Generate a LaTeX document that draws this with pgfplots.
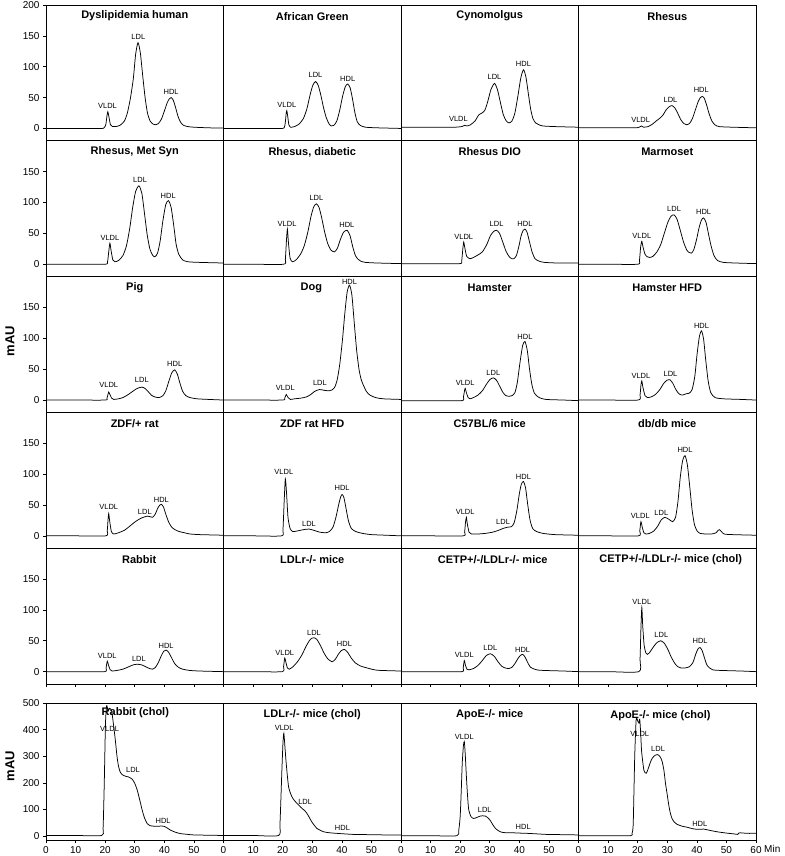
\documentclass[border=0pt]{standalone}
\usepackage{fontspec}
\setmainfont{Liberation Sans}
\usepackage{pgfplots}
\pgfplotsset{compat=1.18}
\tikzset{
  lab/.style={font=\fontsize{7.5}{9}\selectfont, inner sep=0pt},
  ttl/.style={font=\fontsize{11}{13}\selectfont\bfseries, inner sep=0pt},
}
\pgfplotsset{
  panel/.style={
    scale only axis, width=177.5pt, height=135.8pt,
    xmin=0, xmax=60, ymin=-20, ymax=200,
    anchor=north west,
    xtick=\empty, ytick=\empty,
    axis line style={line width=0.7pt},
    tick align=outside, xtick pos=bottom, ytick pos=left,
    major tick length=3pt,
    tick style={line width=0.6pt, black},
    ticklabel style={font=\fontsize{10}{12}\selectfont},
    /pgf/number format/assume math mode=true,
  },
  lcol/.style={ytick={0,50,100,150}},
  r5/.style={xtick={0,10,...,60}, xticklabels={,,,,,,,}},
  r6/.style={ymin=-15, ymax=500, height=137pt, xtick={0,10,...,50}},
  trace/.style={black, line width=0.75pt, mark=none, smooth, tension=0.4},
}
\begin{document}
\begin{tikzpicture}
\path[use as bounding box] (0,0) rectangle (784pt,856pt);
\node[rotate=90, font=\fontsize{13}{15}\selectfont\bfseries] at (10pt,515pt) {mAU};
\node[rotate=90, font=\fontsize{13}{15}\selectfont\bfseries] at (10pt,90pt) {mAU};

% ---------------- Row 1 ----------------
\begin{axis}[panel, at={(46pt,851pt)}, ytick={0,50,100,150,200}]
\addplot[trace] coordinates {(0,0)(10,0)(18,0)(19.5,0.5)(20.2,6)(20.6,20)(20.9,27)(21.3,18)(21.8,6)(22.5,3)(23.5,3)(25,5)(26.5,12)(27.5,25)(28.5,48)(29.5,80)(30.3,120)(31.1,139)(31.9,122)(32.7,85)(33.5,50)(34.3,25)(35.2,12)(36.2,7)(37,6)(38,8)(39,15)(40,28)(41,42)(41.7,48)(42.3,50)(43,46)(43.8,34)(44.6,20)(45.5,10)(46.5,5)(48,3)(50,2)(55,1)(60,0.5)};
\node[ttl] at (axis cs:30,182) {Dyslipidemia human};
\node[lab] at (axis cs:20.8,36) {VLDL};
\node[lab] at (axis cs:31.2,148) {LDL};
\node[lab] at (axis cs:42.3,59) {HDL};
\end{axis}
\begin{axis}[panel, at={(223.5pt,851pt)}]
\addplot[trace] coordinates {(0,0)(10,0)(19,0)(20.5,1)(20.9,10)(21.2,25)(21.4,29)(21.7,20)(22.1,6)(22.7,2)(24,3)(25.5,7)(27,16)(28.2,32)(29.3,55)(30.2,70)(31.1,76)(32,70)(32.9,54)(33.8,34)(34.7,18)(35.6,8)(36.4,4)(37.3,5)(38.3,12)(39.3,30)(40.3,53)(41.2,68)(42,72)(42.8,66)(43.6,48)(44.4,26)(45.2,11)(46.2,5)(48,2)(52,1)(60,0)};
\node[ttl] at (axis cs:30,182) {African Green};
\node[lab] at (axis cs:21.4,38) {VLDL};
\node[lab] at (axis cs:31.1,86) {LDL};
\node[lab] at (axis cs:42,80) {HDL};
\end{axis}
\begin{axis}[panel, at={(401pt,851pt)}]
\addplot[trace] coordinates {(0,2)(10,2)(18,2)(20.5,3)(21.5,5)(22.3,4)(23.5,6)(25,12)(26.3,22)(27.4,25)(28.4,30)(29.4,45)(30.4,63)(31.6,73)(32.6,63)(33.6,42)(34.6,22)(35.6,12)(36.5,9)(37.5,12)(38.5,25)(39.5,52)(40.5,82)(41.4,95)(42.2,84)(43,58)(43.8,32)(44.6,16)(45.5,9)(46.6,6)(48,4)(52,3)(60,2)};
\node[ttl] at (axis cs:30,182) {Cynomolgus};
\node[lab] at (axis cs:19.4,16) {VLDL};
\node[lab] at (axis cs:31.6,84) {LDL};
\node[lab] at (axis cs:41.4,104) {HDL};
\end{axis}
\begin{axis}[panel, at={(578.5pt,851pt)}]
\addplot[trace] coordinates {(0,1)(10,1)(19,1)(20.5,2)(21.3,4)(22,2)(23.5,3)(25,7)(26.5,13)(27.6,17)(28.6,22)(29.6,30)(30.6,35)(31.6,37)(32.6,33)(33.6,24)(34.6,14)(35.6,8)(36.5,6)(37.5,8)(38.5,16)(39.5,30)(40.5,44)(41.2,50)(41.8,52)(42.5,49)(43.3,38)(44.2,23)(45.1,12)(46.1,6)(47.5,3)(52,2)(60,1)};
\node[ttl] at (axis cs:30,182) {Rhesus};
\node[lab] at (axis cs:21,14) {VLDL};
\node[lab] at (axis cs:31.1,47) {LDL};
\node[lab] at (axis cs:41.5,63) {HDL};
\end{axis}

% ---------------- Row 2 ----------------
\begin{axis}[panel, lcol, at={(46pt,715.2pt)}]
\addplot[trace] coordinates {(0,0)(10,0)(20,0)(20.8,4)(21.2,20)(21.6,34)(22,22)(22.6,7)(23.3,4)(24.5,6)(26,14)(27.2,30)(28.3,58)(29.3,92)(30.3,118)(31.4,127)(32.4,115)(33.3,82)(34.2,48)(35.1,25)(36,15)(36.8,12)(37.7,18)(38.6,38)(39.5,70)(40.5,97)(41.4,103)(42.3,92)(43.2,62)(44,32)(44.9,16)(46.2,7)(48,4)(52,3)(60,2)};
\node[ttl] at (axis cs:30,182) {Rhesus, Met Syn};
\node[lab] at (axis cs:21.6,43) {VLDL};
\node[lab] at (axis cs:31.8,137) {LDL};
\node[lab] at (axis cs:41.3,111) {HDL};
\end{axis}
\begin{axis}[panel, at={(223.5pt,715.2pt)}]
\addplot[trace] coordinates {(0,0)(10,0)(20.3,0)(20.9,8)(21.3,40)(21.6,57)(21.95,35)(22.5,10)(23.3,4)(24.5,7)(26,16)(27.3,30)(28.5,52)(29.6,78)(30.5,93)(31.4,98)(32.3,92)(33.2,75)(34.2,52)(35.2,34)(36.3,23)(37.5,20)(38.5,26)(39.5,40)(40.6,52)(41.8,55)(42.8,46)(43.7,28)(44.6,14)(45.5,8)(46.4,5)(48,3)(52,2)(60,1)};
\node[ttl] at (axis cs:30,182) {Rhesus, diabetic};
\node[lab] at (axis cs:21.5,66) {VLDL};
\node[lab] at (axis cs:31.4,107) {LDL};
\node[lab] at (axis cs:41.7,63) {HDL};
\end{axis}
\begin{axis}[panel, at={(401pt,715.2pt)}]
\addplot[trace] coordinates {(0,1)(10,1)(19.8,1)(20.5,5)(20.9,25)(21.2,36)(21.6,26)(22.2,13)(23.3,9)(24.5,11)(26,15)(27.5,20)(29,32)(30.2,46)(31.3,53)(32.3,55)(33.3,50)(34.4,36)(35.5,21)(36.6,12)(37.5,9)(38.2,9)(39,14)(39.8,28)(40.6,46)(41.3,55)(41.9,57)(42.6,52)(43.4,37)(44.3,20)(45.3,9)(46.7,5)(48.5,3)(53,2)(60,2)};
\node[ttl] at (axis cs:30,182) {Rhesus DIO};
\node[lab] at (axis cs:21.2,45) {VLDL};
\node[lab] at (axis cs:32.3,65) {LDL};
\node[lab] at (axis cs:41.9,65) {HDL};
\end{axis}
\begin{axis}[panel, at={(578.5pt,715.2pt)}]
\addplot[trace] coordinates {(0,0)(10,0)(20,0)(20.6,6)(21,28)(21.4,37)(21.8,28)(22.5,16)(23.3,12)(24.1,11)(25.2,13)(26.5,20)(27.8,32)(29,50)(30.2,68)(31.3,78)(32.3,80)(33.3,73)(34.4,55)(35.5,36)(36.6,23)(37.4,19)(38.2,18)(39,24)(39.9,40)(40.8,60)(41.6,72)(42.3,75)(43.1,68)(43.9,50)(44.8,30)(45.8,14)(47,6)(49,3)(53,2)(60,1)};
\node[ttl] at (axis cs:30,182) {Marmoset};
\node[lab] at (axis cs:21.4,46) {VLDL};
\node[lab] at (axis cs:32.3,90) {LDL};
\node[lab] at (axis cs:42.3,85) {HDL};
\end{axis}

% ---------------- Row 3 ----------------
\begin{axis}[panel, lcol, at={(46pt,579.4pt)}]
\addplot[trace] coordinates {(0,0)(10,0)(20,0)(20.6,3)(21,10)(21.2,13)(21.6,9)(22.2,3)(22.9,1)(24.5,2)(26,4)(27.5,8)(29,13)(30.5,18)(31.5,20)(32.4,21)(33.4,19)(34.5,14)(35.6,8)(36.8,5)(38.2,4)(39.5,7)(40.5,15)(41.5,30)(42.5,44)(43.5,49)(44.4,42)(45.3,27)(46.2,14)(47.3,7)(48.7,4)(51,2)(55,1)(60,0)};
\node[ttl] at (axis cs:30,182) {Pig};
\node[lab] at (axis cs:21.2,24) {VLDL};
\node[lab] at (axis cs:32.4,32) {LDL};
\node[lab] at (axis cs:43.5,58) {HDL};
\end{axis}
\begin{axis}[panel, at={(223.5pt,579.4pt)}]
\addplot[trace] coordinates {(0,0)(10,0)(20,0)(20.7,3)(21.2,9)(21.7,5)(22.6,1)(24,2)(26,3)(28,5)(29.5,9)(30.8,14)(32.4,17)(33.8,16)(35.3,15)(36.5,16)(37.5,20)(38.4,32)(39.3,58)(40.2,97)(41,140)(41.8,175)(42.6,186)(43.4,170)(44.2,125)(45,81)(45.8,50)(46.5,34)(47.2,25)(48.3,14)(49.5,8)(51.4,4)(54,2)(60,1)};
\node[ttl] at (axis cs:29.7,182) {Dog};
\node[lab] at (axis cs:20.9,19) {VLDL};
\node[lab] at (axis cs:32.6,27) {LDL};
\node[lab] at (axis cs:42.6,192) {HDL};
\end{axis}
\begin{axis}[panel, at={(401pt,579.4pt)}]
\addplot[trace] coordinates {(0,-1)(10,-1)(20.5,-1)(21.1,5)(21.5,16)(21.7,19)(22.1,12)(22.7,4)(23.3,2)(24.5,4)(26,8)(27.5,15)(28.8,25)(30,33)(31.2,36)(32.3,32)(33.4,22)(34.5,12)(35.5,7)(36.5,6)(37.5,7)(38.5,12)(39.3,28)(40.2,60)(41.1,88)(41.9,95)(42.7,80)(43.4,52)(44.2,26)(45.1,11)(46.7,4)(49,1)(55,0)(60,-1)};
\node[ttl] at (axis cs:30,182) {Hamster};
\node[lab] at (axis cs:21.7,28) {VLDL};
\node[lab] at (axis cs:31.2,44) {LDL};
\node[lab] at (axis cs:41.9,103) {HDL};
\end{axis}
\begin{axis}[panel, at={(578.5pt,579.4pt)}]
\addplot[trace] coordinates {(0,0)(10,0)(20.2,0)(20.8,8)(21.1,24)(21.4,31)(21.8,20)(22.5,7)(23.3,4)(24.5,5)(26,9)(27.5,17)(28.8,27)(29.9,32)(30.9,33)(31.9,27)(32.9,17)(34,10)(35.1,8)(36.3,10)(37.4,11)(38.4,17)(39.3,38)(40.1,75)(40.9,104)(41.6,112)(42.3,98)(43,65)(43.8,32)(44.7,12)(46.2,4)(49,2)(55,1)(60,0)};
\node[ttl] at (axis cs:30,182) {Hamster HFD};
\node[lab] at (axis cs:21.1,39) {VLDL};
\node[lab] at (axis cs:31.1,42) {LDL};
\node[lab] at (axis cs:41.6,120) {HDL};
\end{axis}

% ---------------- Row 4 ----------------
\begin{axis}[panel, lcol, at={(46pt,443.6pt)}]
\addplot[trace] coordinates {(0,0)(10,0)(20.2,0)(20.7,8)(21,28)(21.2,36)(21.5,25)(22.1,7)(22.9,3)(24.5,5)(26.5,9)(28.4,16)(30.2,23)(32.3,29)(34.3,32)(35.2,31)(36,30)(36.9,35)(37.8,45)(38.5,50)(39,51)(39.7,47)(40.5,35)(41.5,22)(42.5,14)(43.6,10)(45,7)(46.8,5)(48.7,3)(52,2)(60,1)};
\node[ttl] at (axis cs:30,182) {ZDF/+ rat};
\node[lab] at (axis cs:21.2,47) {VLDL};
\node[lab] at (axis cs:33.4,38) {LDL};
\node[lab] at (axis cs:39,59) {HDL};
\end{axis}
\begin{axis}[panel, at={(223.5pt,443.6pt)}]
\addplot[trace] coordinates {(0,0)(10,0)(19.6,0)(20.1,10)(20.5,55)(20.9,92)(21.3,70)(21.8,30)(22.5,12)(23.4,7)(25,8)(27,10)(28.9,11)(30.5,9)(32.5,6)(34.5,5)(35.8,7)(37,14)(38,30)(39,52)(39.6,63)(40.1,67)(40.7,62)(41.4,45)(42.2,25)(43.2,12)(44.7,7)(47,4)(50,2)(55,1)(60,0)};
\node[ttl] at (axis cs:30,182) {ZDF rat HFD};
\node[lab] at (axis cs:20.4,104) {VLDL};
\node[lab] at (axis cs:28.9,19) {LDL};
\node[lab] at (axis cs:40.1,77) {HDL};
\end{axis}
\begin{axis}[panel, at={(401pt,443.6pt)}]
\addplot[trace] coordinates {(0,0)(10,0)(21,0)(21.5,6)(21.8,22)(22.1,30)(22.4,20)(23,6)(23.8,3)(26,3)(28.5,4)(31,6)(33,9)(34.5,12)(36,14)(37.4,15)(38.3,22)(39.2,42)(40,68)(40.7,84)(41.4,88)(42.1,78)(42.8,52)(43.6,26)(44.5,12)(45.8,7)(48,4)(52,2)(60,1)};
\node[ttl] at (axis cs:30,182) {C57BL/6 mice};
\node[lab] at (axis cs:21.7,38) {VLDL};
\node[lab] at (axis cs:34.5,22) {LDL};
\node[lab] at (axis cs:41.4,96) {HDL};
\end{axis}
\begin{axis}[panel, at={(578.5pt,443.6pt)}]
\addplot[trace] coordinates {(0,0)(10,0)(20.3,0)(20.7,8)(21.1,23)(21.5,15)(22.1,5)(22.8,3)(24,4)(25.5,8)(26.8,16)(28,26)(29.2,30)(30.5,27)(31.8,23)(32.8,30)(33.6,55)(34.4,95)(35.2,122)(36,130)(36.8,115)(37.6,80)(38.4,42)(39.2,18)(40.1,8)(41.1,4)(43,3)(45,3)(46.5,5)(47.2,9)(47.7,10)(48.3,7)(49.2,3)(52,2)(60,1)};
\node[ttl] at (axis cs:30,182) {db/db mice};
\node[lab] at (axis cs:20.9,32) {VLDL};
\node[lab] at (axis cs:28,37) {LDL};
\node[lab] at (axis cs:36,139) {HDL};
\end{axis}

% ---------------- Row 5 ----------------
\begin{axis}[panel, lcol, r5, at={(46pt,307.8pt)}]
\addplot[trace] coordinates {(0,0)(10,0)(19.8,0)(20.3,6)(20.7,17)(21.1,11)(21.7,3)(22.4,1)(24,2)(26,4)(28,8)(29.5,11)(30.9,12)(32.3,11)(33.7,8)(35,5)(36,4)(37,7)(38,15)(39,26)(39.8,33)(40.6,35)(41.5,31)(42.5,22)(43.5,13)(44.8,7)(46.2,4)(48.5,2)(52,1)(60,0)};
\node[ttl] at (axis cs:31.5,182) {Rabbit};
\node[lab] at (axis cs:20.7,25) {VLDL};
\node[lab] at (axis cs:31.4,20) {LDL};
\node[lab] at (axis cs:40.6,41) {HDL};
\end{axis}
\begin{axis}[panel, r5, at={(223.5pt,307.8pt)}]
\addplot[trace] coordinates {(0,0)(10,0)(19.8,0)(20.3,8)(20.7,22)(21.1,15)(21.6,6)(22.2,4)(23.5,8)(25,16)(26.5,27)(27.8,40)(29,50)(29.8,54)(30.6,55)(31.6,52)(32.8,42)(34,30)(35.2,21)(36.7,16)(37.8,20)(38.8,28)(39.8,34)(40.9,36)(42,31)(43.2,22)(44.6,14)(46.4,9)(48.5,6)(51,3)(53,2)(60,1)};
\node[ttl] at (axis cs:30,182) {LDLr-/- mice};
\node[lab] at (axis cs:20.7,31) {VLDL};
\node[lab] at (axis cs:30.6,63) {LDL};
\node[lab] at (axis cs:40.9,45) {HDL};
\end{axis}
\begin{axis}[panel, r5, at={(401pt,307.8pt)}]
\addplot[trace] coordinates {(0,0)(10,0)(20.5,0)(21,6)(21.4,18)(21.8,10)(22.3,4)(22.9,3)(24.5,5)(26,10)(27.5,18)(28.8,26)(30.2,29)(31.5,25)(32.8,16)(34,9)(35.2,6)(36.5,5)(37.5,7)(38.5,13)(39.5,21)(40.3,26)(41.1,28)(41.9,24)(42.8,15)(43.8,7)(45.8,3)(48,2)(55,1)(60,0)};
\node[ttl] at (axis cs:31,182) {CETP+/-/LDLr-/- mice};
\node[lab] at (axis cs:21.4,27) {VLDL};
\node[lab] at (axis cs:30.2,38) {LDL};
\node[lab] at (axis cs:41.1,36) {HDL};
\end{axis}
\begin{axis}[panel, r5, at={(578.5pt,307.8pt)}]
\addplot[trace] coordinates {(0,0)(10,0)(20.4,0)(20.8,20)(21.1,70)(21.4,104)(21.7,75)(22.2,42)(22.8,30)(23.3,28)(24.2,32)(25.3,40)(26.5,47)(27.8,50)(29,46)(30.2,36)(31.4,23)(32.6,13)(33.6,8)(34.6,6)(36,6)(37.5,8)(38.7,15)(39.6,28)(40.4,37)(41.1,39)(41.8,34)(42.6,22)(43.5,10)(45.3,3)(48,2)(55,1)(60,0)};
\node[ttl] at (axis cs:31.2,182) {CETP+/-/LDLr-/- mice (chol)};
\node[lab] at (axis cs:21.4,113) {VLDL};
\node[lab] at (axis cs:28,60) {LDL};
\node[lab] at (axis cs:41.1,50) {HDL};
\end{axis}

% ---------------- Row 6 ----------------
\begin{axis}[panel, r6, ytick={0,100,...,500}, at={(46pt,153pt)}]
\addplot[trace] coordinates {(0,2)(10,2)(18.8,2)(19.3,30)(19.7,200)(20.1,420)(20.5,490)(21,470)(21.5,480)(22.2,470)(22.8,420)(23.4,364)(24,300)(24.5,263)(25.1,240)(25.7,231)(26.8,225)(27.9,222)(29.1,214)(30,198)(30.8,174)(31.7,135)(32.5,98)(33.3,68)(34.2,47)(35.2,39)(36.4,37)(38,37)(39.8,37)(41,30)(42.1,22)(43.8,14)(45.5,9)(48,6)(50,4)(55,3)(60,2)};
\node[ttl] at (axis cs:30.2,463) {Rabbit (chol)};
\node[lab] at (axis cs:21.5,402) {VLDL};
\node[lab] at (axis cs:29.4,247) {LDL};
\node[lab] at (axis cs:39.6,57) {HDL};
\end{axis}
\begin{axis}[panel, r6, at={(223.5pt,153pt)}]
\addplot[trace] coordinates {(0,2)(10,2)(18.6,2)(19.1,48)(19.7,236)(20.1,350)(20.4,386)(20.8,330)(21.2,273)(22,185)(23.1,148)(24,133)(24.8,123)(26.5,104)(27.4,96)(28.2,85)(29,70)(29.8,54)(30.7,40)(31.5,29)(33.8,16)(36,12)(38.3,10)(43.9,6)(50,5)(55,4)(60,4)};
\node[ttl] at (axis cs:30,455) {LDLr-/- mice (chol)};
\node[lab] at (axis cs:20.5,407) {VLDL};
\node[lab] at (axis cs:27.6,129) {LDL};
\node[lab] at (axis cs:40.2,31) {HDL};
\end{axis}
\begin{axis}[panel, r6, at={(401pt,153pt)}]
\addplot[trace] coordinates {(0,1)(10,1)(18.9,1)(19.5,20)(20,73)(20.4,180)(20.7,273)(21.1,340)(21.4,355)(21.7,310)(22.1,224)(22.5,150)(22.9,98)(23.7,72)(24.6,66)(25.7,70)(26.8,75)(27.6,76)(28.5,75)(29.4,68)(30.2,58)(31,43)(31.9,29)(32.9,20)(34.1,14)(36,12)(38.1,12)(40,11)(42.6,10)(46,8)(49.3,6)(55,5)(60,4)};
\node[ttl] at (axis cs:30,455) {ApoE-/- mice};
\node[lab] at (axis cs:21.4,373) {VLDL};
\node[lab] at (axis cs:28.3,98) {LDL};
\node[lab] at (axis cs:41.3,35) {HDL};
\end{axis}
\begin{axis}[panel, r6, clip=false, xtick={0,10,...,60}, at={(578.5pt,153pt)}]
\addplot[trace] coordinates {(0,1)(10,1)(17.6,1)(18.1,10)(18.5,48)(19,298)(19.5,439)(20.1,430)(20.4,425)(20.7,439)(21,390)(21.3,323)(21.7,280)(22.1,248)(22.5,238)(22.9,236)(23.3,245)(23.8,261)(24.4,280)(24.9,292)(25.5,300)(26,304)(26.6,306)(27.1,304)(27.7,296)(28.3,279)(28.9,245)(29.4,198)(30,155)(30.5,117)(31,88)(31.6,66)(32.4,52)(33.3,44)(35,37)(36.7,33)(38.4,28)(40.1,25)(42.3,26)(44.5,21)(46.8,16)(50,11)(52.5,8)(53.8,6)(54.2,11)(54.7,12)(57,10)(60,10)};
\node[ttl] at (axis cs:27.7,451) {ApoE-/- mice (chol)};
\node[lab] at (axis cs:20.7,382) {VLDL};
\node[lab] at (axis cs:26.9,326) {LDL};
\node[lab] at (axis cs:41,45) {HDL};
\node[anchor=west, inner sep=0pt, font=\fontsize{10}{12}\selectfont] at ([xshift=8pt, yshift=-8.5pt]rel axis cs:1,0) {Min};
\end{axis}
\end{tikzpicture}
\end{document}
